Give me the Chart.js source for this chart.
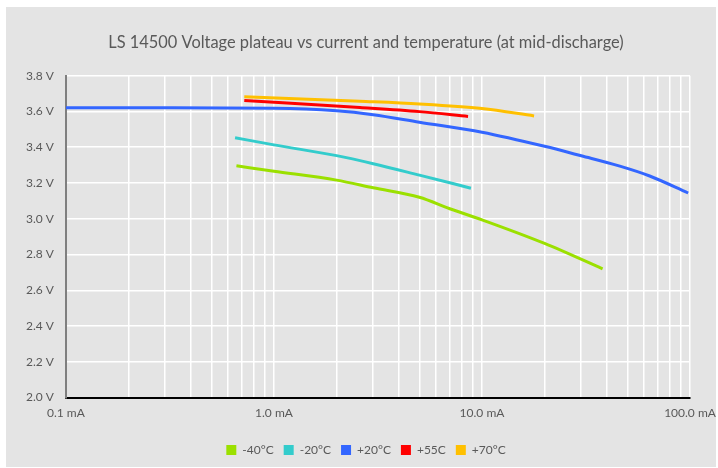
<!DOCTYPE html>
<html>
<head>
<meta charset="utf-8">
<script src="https://cdn.jsdelivr.net/npm/chart.js@4/dist/chart.umd.min.js"></script>
<style>
html,body{margin:0;padding:0;background:#ffffff;}
#wrap{width:718px;height:468px;position:relative;}
</style>
</head>
<body>
<div id="wrap"><canvas id="c" width="718" height="468"></canvas></div>
<script>
// ---- data (current in mA, voltage plateau in V) ----
const titleText = "LS 14500 Voltage plateau vs current and temperature (at mid-discharge)";
const seriesNames = ["-40°C", "-20°C", "+20°C", "+55C", "+70°C"];

const m40Current = [0.66, 1.0, 2.0, 3.0, 5.0, 7.0, 10, 20, 38];
const m40Voltage = [3.296, 3.266, 3.216, 3.173, 3.12, 3.056, 2.994, 2.862, 2.72];

const m20Current = [0.65, 1.0, 2.0, 3.0, 5.0, 8.85];
const m20Voltage = [3.453, 3.413, 3.353, 3.308, 3.244, 3.171];

const p20Current = [0.1, 0.3, 1.0, 2.0, 3.0, 5.0, 10, 20, 30, 46, 64, 98];
const p20Voltage = [3.62, 3.62, 3.618, 3.604, 3.582, 3.54, 3.484, 3.405, 3.352, 3.294, 3.239, 3.144];

const p55Current = [0.72, 2.59, 5.0, 8.57];
const p55Voltage = [3.661, 3.622, 3.599, 3.572];

const p70Current = [0.72, 2.59, 5.0, 10, 17.8];
const p70Voltage = [3.682, 3.657, 3.642, 3.616, 3.575];

const xMajorTicks = [0.1, 1, 10, 100];
const xTickLabels = ["0.1 mA", "1.0 mA", "10.0 mA", "100.0 mA"];
const yTickValues = [2.0, 2.2, 2.4, 2.6, 2.8, 3.0, 3.2, 3.4, 3.6, 3.8];
const yTickLabels = ["2.0 V", "2.2 V", "2.4 V", "2.6 V", "2.8 V", "3.0 V", "3.2 V", "3.4 V", "3.6 V", "3.8 V"];

// ---- styles ----
const colors = ["#9be000", "#33cccc", "#3366ff", "#ff0000", "#ffc000"];
const FONT = "Lato";
const TXT = "#595959";

const pairs = (xs, ys) => xs.map((x, i) => ({x: x, y: ys[i]}));
const allSeries = [
  pairs(m40Current, m40Voltage),
  pairs(m20Current, m20Voltage),
  pairs(p20Current, p20Voltage),
  pairs(p55Current, p55Voltage),
  pairs(p70Current, p70Voltage)
];

const bgPlugin = {
  id: "bg",
  beforeDraw(chart) {
    const ctx = chart.ctx;
    ctx.save();
    ctx.fillStyle = "#e4e4e4";
    ctx.fillRect(6, 7, 710, 460);
    ctx.restore();
  }
};

// minor log ticks 1..9 per decade
function logTicks() {
  const t = [];
  for (let e = -1; e <= 1; e++) {
    for (let s = 1; s <= 9; s++) t.push(+(s * Math.pow(10, e)).toPrecision(3));
  }
  t.push(100);
  return t;
}

new Chart(document.getElementById("c"), {
  type: "scatter",
  data: {
    datasets: allSeries.map((d, i) => ({
      label: seriesNames[i],
      data: d,
      showLine: true,
      borderColor: colors[i],
      backgroundColor: colors[i],
      borderWidth: 3,
      pointRadius: 0,
      pointHoverRadius: 0,
      cubicInterpolationMode: "monotone",
      fill: false
    }))
  },
  options: {
    responsive: false,
    animation: false,
    layout: {padding: {top: 11, left: 14, right: 0, bottom: 2}},
    plugins: {
      title: {
        display: true,
        text: titleText,
        color: TXT,
        font: {family: FONT, size: 16.4, weight: "normal"},
        padding: {top: 22, bottom: 23}
      },
      legend: {
        position: "bottom",
        labels: {
          color: TXT,
          font: {family: FONT, size: 12},
          boxWidth: 10,
          boxHeight: 10,
          padding: 10,
          generateLabels: (chart) => Chart.defaults.plugins.legend.labels.generateLabels(chart).map(l => Object.assign(l, {lineWidth: 0}))
        }
      },
      tooltip: {enabled: false}
    },
    scales: {
      x: {
        type: "logarithmic",
        min: 0.1,
        max: 100,
        afterBuildTicks: (axis) => { axis.ticks = logTicks().map(v => ({value: v})); },
        afterFit: (axis) => { axis.height += 6; axis.paddingRight = 28; },
        ticks: {
          autoSkip: false,
          maxRotation: 0,
          color: TXT,
          font: {family: FONT, size: 12},
          padding: 8,
          callback: (v) => {
            const k = xMajorTicks.findIndex(m => Math.abs(m - v) < 1e-9);
            return k >= 0 ? xTickLabels[k] : "";
          }
        },
        grid: {color: "#ffffff", lineWidth: 1.5, drawTicks: false},
        border: {display: true, color: "#000000", width: 2}
      },
      y: {
        min: 2.0,
        max: 3.8,
        afterBuildTicks: (axis) => { axis.ticks = yTickValues.map(v => ({value: v})); },
        ticks: {
          color: TXT,
          font: {family: FONT, size: 12},
          padding: 12,
          callback: (v) => {
            const k = yTickValues.findIndex(m => Math.abs(m - v) < 1e-6);
            return k >= 0 ? yTickLabels[k] : "";
          }
        },
        grid: {color: "#ffffff", lineWidth: 1.5, drawTicks: false},
        border: {display: true, color: "#7f7f7f", width: 2}
      }
    }
  },
  plugins: [bgPlugin]
});
</script>
</body>
</html>
